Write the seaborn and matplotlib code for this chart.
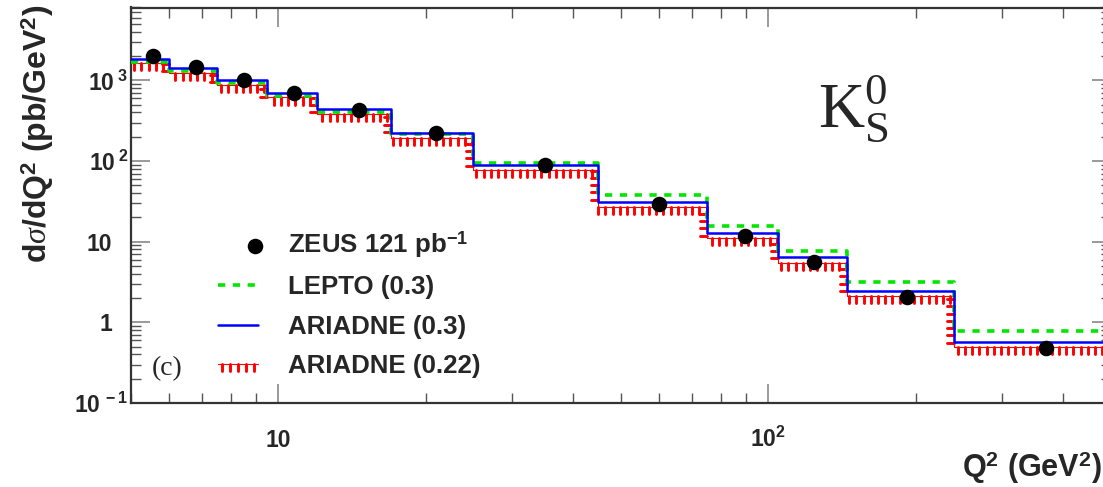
import numpy as np
import matplotlib
matplotlib.use("Agg")
import matplotlib.pyplot as plt
import matplotlib.patheffects as pe
import matplotlib.ticker as mticker
from matplotlib.transforms import ScaledTranslation
from matplotlib.legend_handler import HandlerPathCollection
import pandas as pd
import seaborn as sns

# Q^2 bin edges (GeV^2) shared by the three model histograms
q2_edges = [5, 6, 7.5, 9.5, 12, 17, 25, 45, 75, 105, 145, 240, 600]

# model predictions, dsigma/dQ^2 in pb/GeV^2, one value per bin
lepto_03 = [1680, 1300, 920, 645, 410, 215, 95.6, 37.7, 15.6, 7.7, 3.18, 0.785]
ariadne_03 = [1850, 1420, 1000, 700, 440, 222, 90, 31, 12.8, 6.4, 2.44, 0.574]
ariadne_022 = [1630, 1250, 880, 615, 385, 195, 78.3, 27.0, 11.2, 5.5, 2.12, 0.50]

# measured cross sections
zeus_q2 = [5.55, 6.79, 8.54, 10.78, 14.6, 21.0, 35.1, 60.0, 89.8, 124.3, 191.9, 369]
zeus_xsec = [1983, 1462, 1000, 704, 434, 222, 88.5, 29.1, 11.7, 5.62, 2.07, 0.484]

x_ticks = [10, 100]
x_tick_labels = ["10", r"$\mathsf{10^{2}}$"]
y_ticks = [0.1, 1, 10, 100, 1000]
y_tick_labels = [r"$\mathsf{10^{\ -1}}$", "1", "10", r"$\mathsf{10^{\ 2}}$", r"$\mathsf{10^{\ 3}}$"]

sns.set_style("ticks")
plt.rcParams.update({
    "font.family": ["Liberation Sans", "DejaVu Sans"],
    "font.weight": "bold",
    "mathtext.fontset": "custom",
    "mathtext.rm": "Liberation Serif:weight=normal",
    "mathtext.it": "Liberation Serif:italic:weight=normal",
    "mathtext.sf": "Liberation Sans:bold",
    "mathtext.bf": "Liberation Sans:bold",
})

W, H = 1103, 487


def step_frame(values):
    return pd.DataFrame({"q2": q2_edges, "xsec": list(values) + [values[-1]]})


fig = plt.figure(figsize=(W / 100, H / 100), dpi=100)
ax = fig.add_axes([130.5 / W, (H - 403) / H, 980 / W, 395.5 / H])
ax.set_xscale("log")
ax.set_yscale("log")

sns.lineplot(data=step_frame(lepto_03), x="q2", y="xsec", ax=ax,
             drawstyle="steps-post", color="#00e600", lw=2.6,
             ls=(0, (2.0, 2.1)), label="LEPTO (0.3)", zorder=3,
             estimator=None, sort=False)
sns.lineplot(data=step_frame(ariadne_03), x="q2", y="xsec", ax=ax,
             drawstyle="steps-post", color="#0000ff", lw=1.8,
             label="ARIADNE (0.3)", zorder=4, estimator=None, sort=False)
sns.lineplot(data=step_frame(ariadne_022), x="q2", y="xsec", ax=ax,
             drawstyle="steps-post", color="#ff0000", lw=0.8,
             path_effects=[pe.withTickedStroke(angle=-90, spacing=5.2,
                                               length=1.0, linewidth=2.1)],
             label="ARIADNE (0.22)", zorder=2, estimator=None, sort=False)
sns.scatterplot(x=zeus_q2, y=zeus_xsec, ax=ax, color="black", s=125,
                linewidth=0, label=r"ZEUS 121 pb$^{\mathsf{-1}}$", zorder=6)

ax.set_xlim(5, 500)
ax.set_ylim(0.1, 8000)
ax.set_xlabel("")
ax.set_ylabel("")

ax.xaxis.set_major_locator(mticker.FixedLocator(x_ticks))
ax.xaxis.set_major_formatter(mticker.FixedFormatter(x_tick_labels))
ax.yaxis.set_major_locator(mticker.FixedLocator(y_ticks))
ax.yaxis.set_major_formatter(mticker.FixedFormatter(y_tick_labels))
for axis in (ax.xaxis, ax.yaxis):
    axis.set_minor_locator(mticker.LogLocator(base=10, subs=np.arange(2, 10), numticks=20))
    axis.set_minor_formatter(mticker.NullFormatter())

ax.tick_params(which="both", direction="in", top=True, right=True,
               labelsize=16.5)
ax.tick_params(which="major", length=14, width=1.4, color="#9a9a9a")
ax.tick_params(which="minor", length=7, width=1.0, color="#555555")
ax.tick_params(axis="y", which="major", pad=1.5)
ax.tick_params(axis="x", which="major", pad=31.5)

for lab in ax.get_xticklabels():
    lab.set_fontweight("bold")
    lab.set_va("baseline")
for lab in ax.get_yticklabels():
    lab.set_fontweight("bold")
    if "$" not in lab.get_text():
        lab.set_transform(lab.get_transform() + ScaledTranslation(-0.16, 0, fig.dpi_scale_trans))

for sp in ax.spines.values():
    sp.set_color("#333333")
    sp.set_linewidth(1.6)


class EndMarkerHandler(HandlerPathCollection):
    def get_xdata(self, legend, xdescent, ydescent, width, height, fontsize):
        x = np.array([-xdescent + width - 2.0])
        return x, x


handles, labels = ax.get_legend_handles_labels()
order = [3, 0, 1, 2]
handles = [handles[i] for i in order]
labels = [labels[i] for i in order]
ax.legend(handles, labels, loc="upper left",
          bbox_to_anchor=(218 / W, (H - 229) / H), bbox_transform=fig.transFigure,
          frameon=False, prop={"size": 18.6, "weight": "bold"},
          handlelength=1.55, handletextpad=1.15, labelspacing=0.6,
          borderpad=0, borderaxespad=0,
          handler_map={type(handles[0]): EndMarkerHandler()})

fig.text(1102 / W, (H - 477) / H, r"Q$^{\mathsf{2}}$ (GeV$^{\mathsf{2}}$)",
         ha="right", va="baseline", fontsize=22, fontweight="bold")
fig.text(38 / W, (H - 263) / H, r"d$\sigma$/dQ$^{\mathsf{2}}$ (pb/GeV$^{\mathsf{2}}$)",
         rotation=90, ha="center", va="bottom", fontsize=23, fontweight="bold")
fig.text(152 / W, (H - 369) / H, "(c)", family="Liberation Serif",
         fontweight="normal", fontsize=20, ha="left", va="center")
fig.text(818 / W, (H - 127) / H, r"$\mathrm{K}_{\mathrm{S}}^{0}$",
         fontsize=46, fontweight="normal", ha="left", va="baseline")

fig.savefig("out.png", dpi=100)
